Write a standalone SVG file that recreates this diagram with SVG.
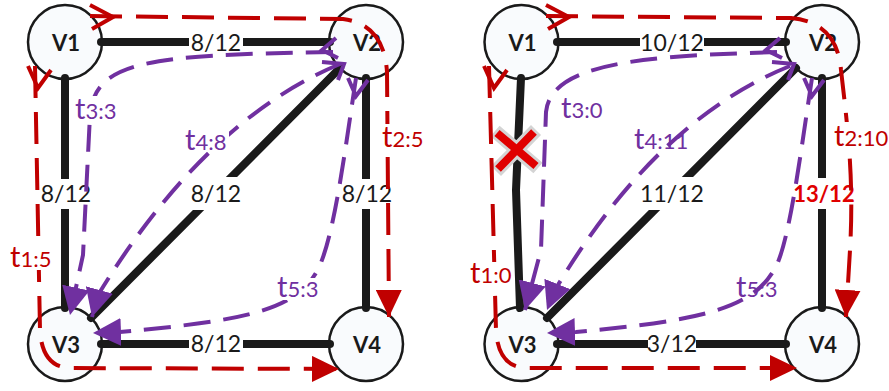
<svg xmlns="http://www.w3.org/2000/svg" width="889" height="391" viewBox="0 0 889 391">
<defs>
<style>
.nd circle{fill:#f9fbfd;stroke:#1a1a1a;stroke-width:2.5}
.nd text{font-family:Lato,"Open Sans","Liberation Sans",sans-serif;font-weight:bold;font-size:22px;fill:#1a1a1a;text-anchor:middle}
.e{stroke:#1a1a1a;stroke-width:8;stroke-linecap:round;stroke-linejoin:round;fill:none}
.bg{fill:#fff}
.el{font-family:Lato,"Open Sans","Liberation Sans",sans-serif;font-size:23px;fill:#1a1a1a;text-anchor:middle}
.hot{fill:#e00000;font-weight:bold;font-size:22px}
.r{stroke:#c00000;stroke-width:4;fill:none;stroke-dasharray:32 14}
.p{stroke:#7030a0;stroke-width:4;fill:none;stroke-dasharray:27 13}
.rc{stroke:#c00000;stroke-width:4;fill:none}
.pc{stroke:#7030a0;stroke-width:4;fill:none}
.tl{font-family:Lato,"Open Sans","Liberation Sans",sans-serif;font-size:22px}
.tl .b{font-size:29px}
.tr{fill:#c00000}
.tp{fill:#7030a0}
</style>
<marker id="ar" markerUnits="userSpaceOnUse" viewBox="0 0 27 26" refX="27" refY="13" markerWidth="27" markerHeight="26" orient="auto"><path d="M0,0L27,13L0,26z" fill="#c00000"/></marker>
<marker id="ap" markerUnits="userSpaceOnUse" viewBox="0 0 28 28" refX="28" refY="14" markerWidth="28" markerHeight="28" orient="auto"><path d="M0,0L28,14L0,28z" fill="#7030a0"/></marker>
</defs>
<rect width="889" height="391" fill="#fff"/>

<!-- LEFT GRAPH -->
<g id="left">
<g id="L-V1" class="nd"><circle cx="65" cy="42" r="37"/><text x="66" y="51">V1</text></g>
<g id="L-V2" class="nd"><circle cx="366" cy="42" r="37"/><text x="367" y="51">V2</text></g>
<g id="L-V3" class="nd"><circle cx="65" cy="344" r="37"/><text x="66" y="353">V3</text></g>
<g id="L-V4" class="nd"><circle cx="366" cy="344" r="37"/><text x="367" y="353">V4</text></g>
<g id="L-connectors">
<path class="e" d="M101,42H330"/>
<path class="e" d="M65,78V308"/>
<path class="e" d="M366,78V308"/>
<path class="e" d="M101,344H330"/>
<path class="e" d="M340,68L91,318"/>
<rect class="bg" x="189" y="35" width="54" height="14"/>
<rect class="bg" x="57" y="179" width="16" height="30"/>
<rect class="bg" x="358" y="179" width="16" height="30"/>
<rect class="bg" x="190" y="177" width="52" height="33"/>
<rect class="bg" x="189" y="337" width="54" height="14"/>
<text class="el" x="216" y="51">8/12</text>
<text class="el" x="66" y="202">8/12</text>
<text class="el" x="367" y="202">8/12</text>
<text class="el" x="216" y="202">8/12</text>
<text class="el" x="216" y="352">8/12</text>
<path class="r" d="M90,16L343,19Q384,24 387,72L389,317" marker-end="url(#ar)"/>
<polyline class="rc" points="90,5 113,17 92,29"/>
<path class="r" d="M35,66L40,330Q42,367 70,368L339,369" marker-end="url(#ar)"/>
<polyline class="rc" points="28,66 38,88 51,70"/>
<path class="p" d="M333,52C150,55 95,60 90,115L83,255L70,315" marker-end="url(#ap)"/>
<path class="p" d="M340,64Q205,120 98,295L92,317" marker-end="url(#ap)"/>
<path class="p" d="M356,78C345,150 335,230 320,265C300,310 250,320 120,332L93,333" marker-end="url(#ap)"/>
<polyline class="pc" points="336,38 322,50 338,58"/>
<polyline class="pc" points="322,62 344,64 338,80"/>
<polyline class="pc" points="348,78 356,96 368,80"/>
<rect class="bg" x="74" y="96" width="45" height="26"/>
<rect class="bg" x="184" y="128" width="45" height="24"/>
<rect class="bg" x="276" y="278" width="46" height="22"/>
<rect class="bg" x="380" y="124" width="47" height="25"/>
<rect class="bg" x="9" y="242" width="46" height="28"/>
<text class="tl tp" x="75" y="119"><tspan class="b">t</tspan>3:3</text>
<text class="tl tp" x="185" y="150"><tspan class="b">t</tspan>4:8</text>
<text class="tl tp" x="277" y="297"><tspan class="b">t</tspan>5:3</text>
<text class="tl tr" x="382" y="147"><tspan class="b">t</tspan>2:5</text>
<text class="tl tr" x="10" y="267"><tspan class="b">t</tspan>1:5</text>
</g>
</g>

<!-- RIGHT GRAPH -->
<g id="right" transform="translate(456,0)">
<g id="R-V1" class="nd"><circle cx="65.5" cy="42" r="37"/><text x="66.5" y="51">V1</text></g>
<g id="R-V2" class="nd"><circle cx="366" cy="42" r="37"/><text x="367" y="51">V2</text></g>
<g id="R-V3" class="nd"><circle cx="65.5" cy="344" r="37"/><text x="66.5" y="353">V3</text></g>
<g id="R-V4" class="nd"><circle cx="366" cy="344" r="37"/><text x="367" y="353">V4</text></g>
<g id="R-connectors">
<path class="e" d="M101,42H330"/>
<path class="e" d="M65,78L60,190L64,308"/>
<path class="e" d="M366,78V308"/>
<path class="e" d="M101,344H330"/>
<path class="e" d="M340,68L91,318"/>
<rect class="bg" x="184" y="35" width="64" height="14"/>
<rect class="bg" x="358" y="178" width="16" height="31"/>
<rect class="bg" x="190" y="177" width="52" height="33"/>
<rect class="bg" x="192" y="337" width="48" height="14"/>
<text class="el" x="216" y="51">10/12</text>
<text class="el" x="216" y="202">11/12</text>
<text class="el hot" x="368" y="202">13/12</text>
<text class="el" x="216" y="352">3/12</text>
<g id="R-cross">
<path d="M39,131L82,168M80,130L40,171" stroke="#d4d4d4" stroke-width="14" fill="none"/>
<path d="M41,133L80,166M78,132L42,169" stroke="#e00000" stroke-width="8" fill="none"/>
</g>
<path class="r" d="M90,16L335,18Q381,22 385,70C392,130 398,180 394,250L390,317" marker-end="url(#ar)"/>
<polyline class="rc" points="90,5 113,17 92,29"/>
<path class="r" d="M33,66L40,330Q42,367 70,368L341,368" marker-end="url(#ar)"/>
<polyline class="rc" points="28,66 38,88 51,70"/>
<path class="p" d="M321,52C190,56 95,62 90,112L85,250L69,310" marker-end="url(#ap)"/>
<path class="p" d="M334,66Q200,120 99,290L91,310" marker-end="url(#ap)"/>
<path class="p" d="M356,78C345,150 335,230 322,262C302,308 250,320 120,332L91,333" marker-end="url(#ap)"/>
<polyline class="pc" points="324,38 310,50 326,58"/>
<polyline class="pc" points="316,62 338,64 332,80"/>
<polyline class="pc" points="348,78 356,96 368,80"/>
<rect class="bg" x="13" y="262" width="40" height="24"/>
<rect class="bg" x="376" y="122" width="58" height="26"/>
<text class="tl tp" x="105" y="118"><tspan class="b">t</tspan>3:0</text>
<text class="tl tp" x="178" y="149"><tspan class="b">t</tspan>4:11</text>
<text class="tl tp" x="280" y="297"><tspan class="b">t</tspan>5:3</text>
<text class="tl tr" x="378" y="146"><tspan class="b">t</tspan>2:10</text>
<text class="tl tr" x="14" y="283"><tspan class="b">t</tspan>1:0</text>
</g>
</g>
</svg>
